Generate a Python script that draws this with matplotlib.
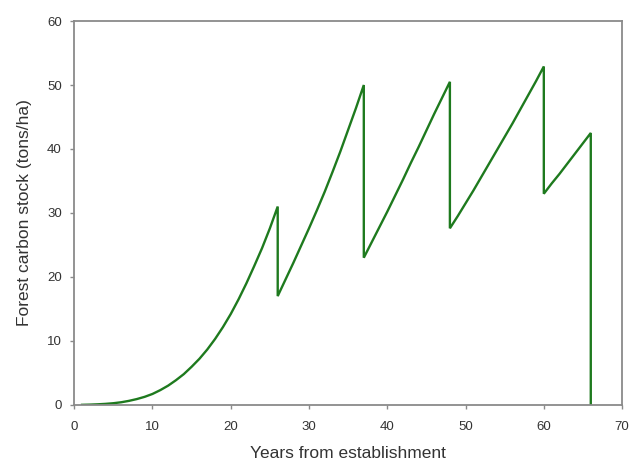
import numpy as np
import matplotlib
matplotlib.use("Agg")
import matplotlib.pyplot as plt

# Forest carbon stock (tons/ha) per rotation
# each harvest is a vertical drop at the same year
rot1_years = [1, 2, 3, 4, 5, 6, 7, 8, 9, 10, 11, 12, 13, 14, 15, 16, 17, 18,
              19, 20, 21, 22, 23, 24, 25, 26]
rot1_carbon = [0.0, 0.03, 0.08, 0.15, 0.25, 0.4, 0.62, 0.9, 1.25, 1.7, 2.3, 3.0,
               3.85, 4.8, 5.95, 7.2, 8.65, 10.3, 12.15, 14.2, 16.5, 19.0, 21.7,
               24.5, 27.6, 31.0]
rot2_years = [26, 27, 28, 29, 30, 31, 32, 33, 34, 35, 36, 37]
rot2_carbon = [17.0, 19.6, 22.2, 24.9, 27.6, 30.4, 33.3, 36.4, 39.6, 43.0, 46.4, 50.0]
rot3_years = [37, 38, 39, 40, 41, 42, 43, 44, 45, 46, 47, 48]
rot3_carbon = [23.0, 25.4, 27.8, 30.2, 32.7, 35.2, 37.8, 40.3, 42.9, 45.5, 48.0, 50.5]
rot4_years = [48, 49, 50, 51, 52, 53, 54, 55, 56, 57, 58, 59, 60]
rot4_carbon = [27.6, 29.5, 31.5, 33.5, 35.6, 37.7, 39.8, 41.9, 44.0, 46.2, 48.4,
               50.6, 52.9]
rot5_years = [60, 61, 62, 63, 64, 65, 66, 66]
rot5_carbon = [33.0, 34.6, 36.1, 37.7, 39.3, 40.9, 42.5, 0.0]

years = rot1_years + rot2_years + rot3_years + rot4_years + rot5_years
carbon = rot1_carbon + rot2_carbon + rot3_carbon + rot4_carbon + rot5_carbon

x_ticks = [0, 10, 20, 30, 40, 50, 60, 70]
y_ticks = [0, 10, 20, 30, 40, 50, 60]

plt.rcParams['font.family'] = ['Liberation Sans', 'DejaVu Sans']

fig = plt.figure(figsize=(6.29, 4.68), dpi=100)
ax = fig.add_axes([0.118, 0.135, 0.871, 0.820])

# Main line
ax.plot(years, carbon, color='#1e7a1e', linewidth=1.7, solid_joinstyle='miter')

ax.set_xlim(0, 70)
ax.set_ylim(0, 60)
ax.set_xticks(x_ticks)
ax.set_yticks(y_ticks)

# Axis styling
for side in ['left', 'bottom', 'top', 'right']:
    ax.spines[side].set_color('#8a8a8a')
    ax.spines[side].set_linewidth(1.3)
ax.tick_params(direction='out', length=3, width=1, color='#8a8a8a',
               labelsize=9.5, labelcolor='#333333')
ax.tick_params(axis='x', pad=9)
ax.tick_params(axis='y', pad=6)

ax.set_xlabel('Years from establishment', fontsize=12.5, color='#333333', labelpad=9)
ax.set_ylabel('Forest carbon stock (tons/ha)', fontsize=12.5, color='#333333', labelpad=11)

fig.savefig('out.png', dpi=100)
